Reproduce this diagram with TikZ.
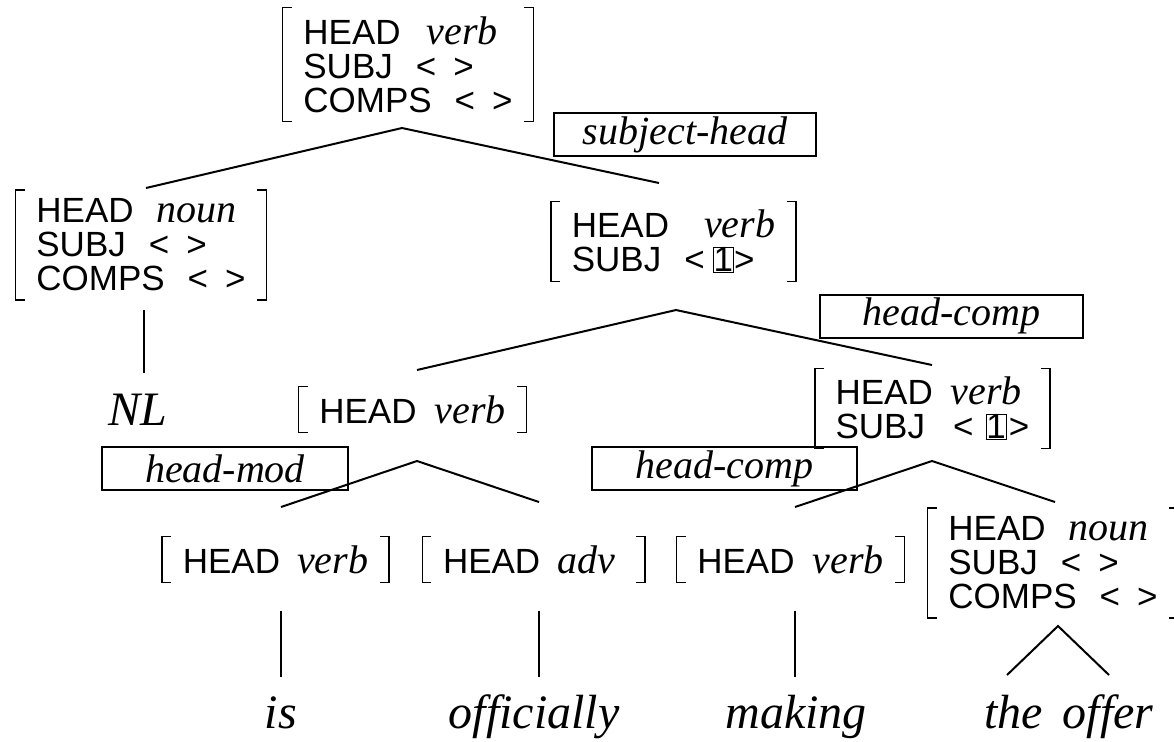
\documentclass[tikz,border=0pt]{standalone}
\usepackage{fontspec}
\setmainfont{Liberation Serif}
\setsansfont{Liberation Sans}
\newcommand{\avmfont}{\sffamily\fontsize{17.5}{17}\selectfont}
\newcommand{\val}[1]{{\rmfamily\itshape\fontsize{20}{17}\selectfont #1}}
\newcommand{\tagbox}[1]{{\setlength{\fboxsep}{0pt}\setlength{\fboxrule}{0.5pt}\fbox{#1}}}
\newcommand{\elist}{<\hspace{8.5pt}>}
\begin{document}
\begin{tikzpicture}[x=0.5pt,y=-0.5pt]

    \tikzset{
      avm/.style={
        align=left,
        font=\avmfont,
        inner xsep=10pt,
        inner ysep=4pt,
        append after command={
          ([xshift=4.5pt]\tikzlastnode.north west) -- (\tikzlastnode.north west)
            -- (\tikzlastnode.south west) -- ([xshift=4.5pt]\tikzlastnode.south west)
          ([xshift=-4.5pt]\tikzlastnode.north east) -- (\tikzlastnode.north east)
            -- (\tikzlastnode.south east) -- ([xshift=-4.5pt]\tikzlastnode.south east)
        },
      },
      rulebox/.style={
        draw,
        line width=1pt,
        inner sep=0pt,
        minimum height=21.5pt,
        font=\rmfamily\itshape\fontsize{20}{20}\selectfont,
      },
      word/.style={
        anchor=base,
        inner sep=0pt,
        font=\rmfamily\itshape\fontsize{24}{24}\selectfont,
      },
      branch/.style={line width=1pt},
      stem/.style={line width=0.75pt},
    }
    \useasboundingbox (0,0) rectangle (1174,741);

	\draw[line width=0.75pt] (408,64.5) node[avm] (s) {HEAD\hspace{13pt}\val{verb}\\SUBJ\hspace{11.5pt}\elist\\COMPS\hspace{11.5pt}\elist};
	\draw[line width=0.75pt] (141,245) node[avm] (np) {HEAD\hspace{11.5pt}\val{noun}\\SUBJ\hspace{11.5pt}\elist\\COMPS\hspace{11.5pt}\elist};
	\draw[line width=0.75pt] (673.5,241.5) node[avm] (vp) {HEAD\hspace{17.5pt}\val{verb}\\SUBJ\hspace{11.5pt}<\hspace{4pt}\tagbox{1}>};
	\draw[line width=0.75pt] (412.5,409.5) node[avm] (vmod) {HEAD\hspace{9pt}\val{verb}};
	\draw[line width=0.75pt] (932.5,408.5) node[avm] (vcomp) {HEAD\hspace{9pt}\val{verb}\\SUBJ\hspace{14pt}<\hspace{6pt}\tagbox{1}\hspace{1pt}>};
	\draw[line width=0.75pt] (275.5,559.5) node[avm] (vis) {HEAD\hspace{8.5pt}\val{verb}};
	\draw[line width=0.75pt] (533.5,559.5) node[avm] (adv) {HEAD\hspace{8.5pt}\val{adv}\hspace{4.5pt}};
	\draw[line width=0.75pt] (790.5,559.5) node[avm] (vmk) {HEAD\hspace{9pt}\val{verb}};
	\draw[line width=0.75pt] (1053,563) node[avm] (obj) {HEAD\hspace{11.5pt}\val{noun}\\SUBJ\hspace{11.5pt}\elist\\COMPS\hspace{11.5pt}\elist};

	\draw (685,134.5) node[rulebox, minimum width=131pt] (subjhead) {subject-head};
	\draw (951.5,316) node[rulebox, minimum width=131.5pt] (hcomp1) {head-comp};
	\draw (225,468.5) node[rulebox, minimum width=123pt] (hmod) {head-mod};
	\draw (724.5,468.5) node[rulebox, minimum width=132.5pt] (hcomp2) {head-comp};

	\draw (138,425) node[word] (nl) {NL};
	\draw (281,728) node[word] (is) {is};
	\draw (534,728) node[word] (offic) {officially};
	\draw (796,728) node[word] (making) {making};
	\draw (1069,728) node[word] (offer) {the\hspace{10pt}offer};

	\coordinate (sh) at (402,128);
	\coordinate (sh-l) at (146,188);
	\coordinate (sh-r) at (659,183);
	\coordinate (hc1) at (676,310);
	\coordinate (hc1-l) at (417,370);
	\coordinate (hc1-r) at (932,365);
	\coordinate (hm) at (417,461);
	\coordinate (hm-l) at (281,507);
	\coordinate (hm-r) at (539,502);
	\coordinate (hc2) at (932,461);
	\coordinate (hc2-l) at (795,507);
	\coordinate (hc2-r) at (1055,502);
	\coordinate (np-a) at (144,310);
	\coordinate (np-b) at (144,373);
	\coordinate (is-a) at (281,611);
	\coordinate (is-b) at (281,677);
	\coordinate (adv-a) at (539,611);
	\coordinate (adv-b) at (539,677);
	\coordinate (mk-a) at (795,611);
	\coordinate (mk-b) at (795,677);
	\coordinate (ob) at (1058,626);
	\coordinate (ob-l) at (1007,675);
	\coordinate (ob-r) at (1109,675);

	\draw[branch] (sh-l) -- (sh) -- (sh-r);
	\draw[branch] (hc1-l) -- (hc1) -- (hc1-r);
	\draw[branch] (hm-l) -- (hm) -- (hm-r);
	\draw[branch] (hc2-l) -- (hc2) -- (hc2-r);
	\draw[branch] (ob-l) -- (ob) -- (ob-r);
	\draw[stem] (np-a) -- (np-b);
	\draw[stem] (is-a) -- (is-b);
	\draw[stem] (adv-a) -- (adv-b);
	\draw[stem] (mk-a) -- (mk-b);

\end{tikzpicture}
\end{document}
